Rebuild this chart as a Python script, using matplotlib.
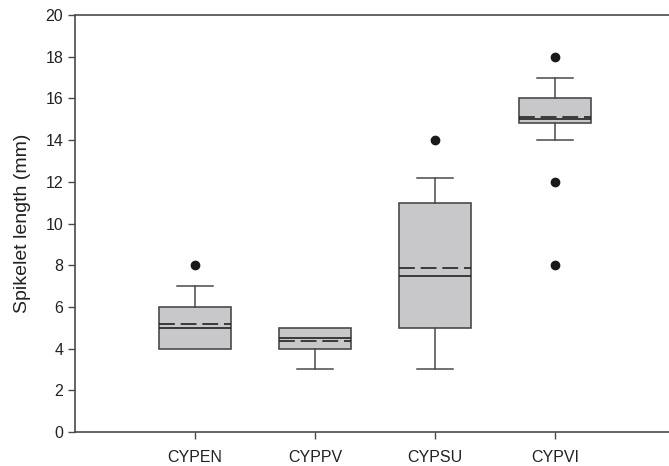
import matplotlib.pyplot as plt

plt.rcParams['font.family'] = ['Liberation Sans', 'DejaVu Sans']

# data
groups = ["CYPEN", "CYPPV", "CYPSU", "CYPVI"]
q1 = [4.0, 4.0, 5.0, 14.8]
q3 = [6.0, 5.0, 11.0, 16.0]
medians = [5.0, 4.5, 7.5, 15.0]
means = [5.2, 4.35, 7.85, 15.1]
whislo = [4.0, 3.0, 3.0, 14.0]
whishi = [7.0, 5.0, 12.2, 17.0]
outliers = [[8.0], [], [14.0], [18.0, 12.0, 8.0]]

stats = []
for i, g in enumerate(groups):
    stats.append({"label": g, "q1": q1[i], "q3": q3[i], "med": medians[i],
                  "mean": means[i], "whislo": whislo[i], "whishi": whishi[i],
                  "fliers": outliers[i]})

fig = plt.figure(figsize=(6.69, 4.66), dpi=100)
ax = fig.add_axes([75 / 669, 34 / 466, 600 / 669, 417 / 466])

edge = "#4a4a4a"
bp = ax.bxp(stats, positions=[1, 2, 3, 4], widths=0.6, patch_artist=True,
            showmeans=True, meanline=True, showcaps=True,
            boxprops=dict(facecolor="#c8c8ca", edgecolor=edge, linewidth=1.2),
            medianprops=dict(color="#222222", linewidth=1.2),
            meanprops=dict(color="#222222", linestyle=(0, (9.5, 3.5)), linewidth=1.2),
            whiskerprops=dict(color=edge, linewidth=1.1),
            capprops=dict(color=edge, linewidth=1.1),
            flierprops=dict(marker="o", markerfacecolor="#1a1a1a",
                            markeredgecolor="#1a1a1a", markersize=6))

# no cap when the whisker ends on the box edge
for i in range(len(groups)):
    if whislo[i] == q1[i]:
        bp["caps"][2 * i].set_visible(False)
    if whishi[i] == q3[i]:
        bp["caps"][2 * i + 1].set_visible(False)

ax.set_xlim(0, 5)
ax.set_ylim(0, 20)
ax.set_yticks(range(0, 21, 2))
ax.set_xticks([1, 2, 3, 4])
ax.set_xticklabels(groups)
ax.tick_params(axis="both", direction="out", length=5, width=1, color=edge,
               labelsize=11.5, labelcolor="#222222")
ax.tick_params(axis="x", pad=8)
ax.set_ylabel("Spikelet length (mm)", fontsize=14, color="#222222", labelpad=10)

for s in ["left", "top", "bottom"]:
    ax.spines[s].set_color(edge)
    ax.spines[s].set_linewidth(1.2)
ax.spines["right"].set_visible(False)

fig.savefig("out.png", dpi=100)
